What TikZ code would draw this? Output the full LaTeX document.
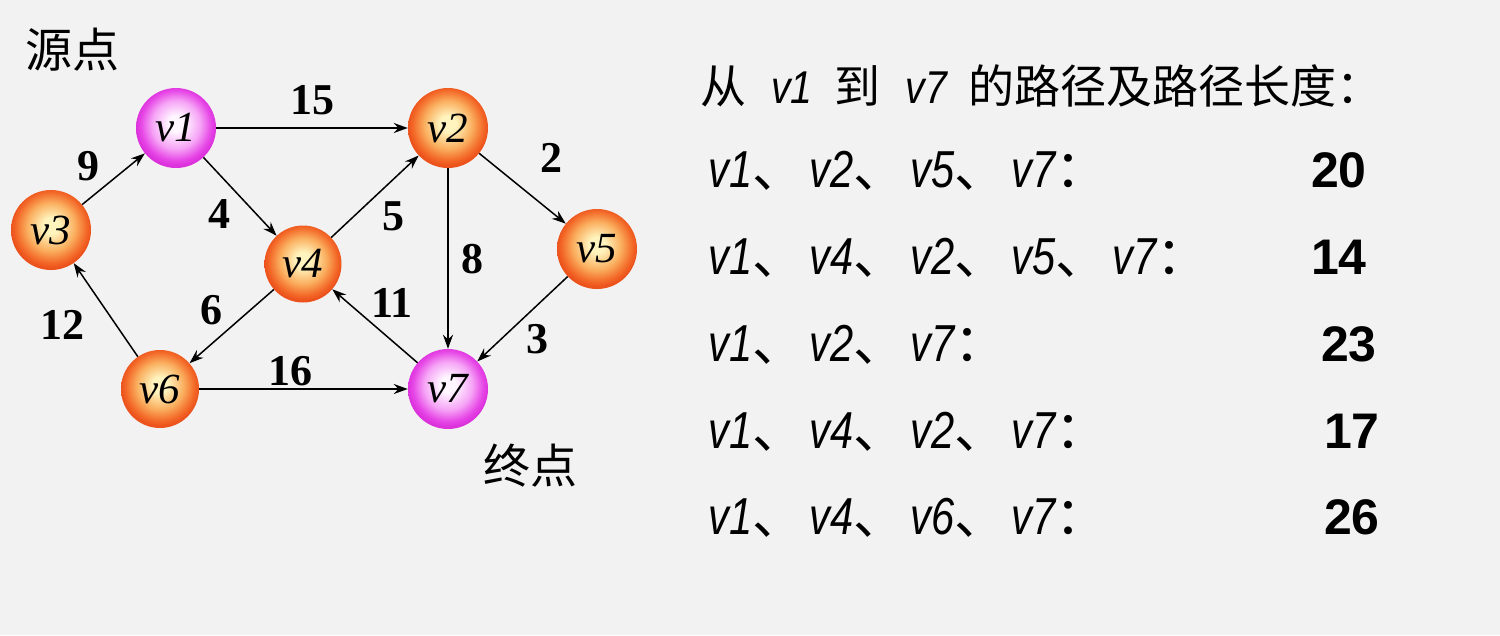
\documentclass[tikz,border=0pt]{standalone}
\usepackage{fontspec}
\setmainfont{Liberation Serif}
\newfontfamily\cjk{Noto Sans CJK SC}
\newfontfamily\arialf{Liberation Sans}
\usetikzlibrary{arrows.meta}
\definecolor{bgc}{RGB}{242,242,242}
\definecolor{oa}{RGB}{255,244,190}
\definecolor{ob}{RGB}{250,175,95}
\definecolor{oc}{RGB}{243,105,40}
\definecolor{od}{RGB}{236,82,28}
\definecolor{ma}{RGB}{255,246,255}
\definecolor{mb}{RGB}{246,165,246}
\definecolor{mc}{RGB}{230,70,230}
\definecolor{md}{RGB}{220,50,220}
\pgfdeclareradialshading{oball}{\pgfpoint{0bp}{3bp}}{color(0bp)=(oa); color(5bp)=(oa); color(15bp)=(ob); color(22bp)=(oc); color(25bp)=(od); color(50bp)=(od)}
\pgfdeclareradialshading{mball}{\pgfpoint{0bp}{3bp}}{color(0bp)=(ma); color(5bp)=(ma); color(15bp)=(mb); color(22bp)=(mc); color(25bp)=(md); color(50bp)=(md)}
\newcommand\vrow[1]{\scalebox{0.8}[1]{\arialf\itshape v#1}}
\newcommand\vitem[1]{\makebox[101pt][l]{\vrow{#1}{\cjk 、}}}
\begin{document}
\begin{tikzpicture}[x=1pt,y=-1pt,
  vert/.style={circle, minimum size=80pt, inner sep=0pt, font=\fontsize{43}{43}\selectfont\itshape},
  vorange/.style={vert, shading=oball},
  vpink/.style={vert, shading=mball},
  arr/.style={line width=1.5pt, -{Stealth[length=14pt,width=10pt]}},
  lbl/.style={inner sep=0pt, font=\fontsize{44}{44}\selectfont\bfseries},
  zh/.style={inner sep=0pt, font=\fontsize{47}{47}\selectfont\cjk},
  rowt/.style={inner sep=0pt, anchor=base west, font=\fontsize{52}{52}\selectfont},
  num/.style={inner sep=0pt, anchor=base east, font=\fontsize{50}{50}\selectfont\arialf\bfseries}]
\fill[bgc] (0,0) rectangle (1500,635);
\useasboundingbox (0,0) rectangle (1500,635);
% nodes
\node[vpink]   (v1) at (176,128) {v1};
\node[vorange] (v2) at (448,128) {v2};
\node[vorange] (v3) at (51,230)  {v3};
\node[vorange, minimum size=77pt] (v4) at (303,264) {v4};
\node[vorange] (v5) at (597,249) {v5};
\node[vorange, minimum size=78pt] (v6) at (160,389) {v6};
\node[vpink]   (v7) at (448,389) {v7};
% edges
\draw[arr] (v1) -- (v2);
\draw[arr] (v3) -- (v1);
\draw[arr] (v1) -- (v4);
\draw[arr] (v4) -- (v2);
\draw[arr] (v2) -- (v5);
\draw[arr] (v2) -- (v7);
\draw[arr] (v5) -- (v7);
\draw[arr] (v7) -- (v4);
\draw[arr] (v4) -- (v6);
\draw[arr] (v6) -- (v3);
\draw[arr] (v6) -- (v7);
% edge labels
\node[lbl] (l15) at (312,100) {15};
\node[lbl] (l9)  at (88,166)  {9};
\node[lbl] (l4)  at (219,214) {4};
\node[lbl] (l5)  at (393,216) {5};
\node[lbl] (l2)  at (551,158) {2};
\node[lbl] (l8)  at (472,259) {8};
\node[lbl] (l3)  at (537,339) {3};
\node[lbl] (l11) at (392,303) {11};
\node[lbl] (l6)  at (211,310) {6};
\node[lbl] (l12) at (62,325)  {12};
\node[lbl] (l16) at (290,371) {16};
% chinese labels
\node[zh] (src) at (72,50) {源点};
\node[zh] (dst) at (530,466) {终点};
% title
\node[inner sep=0pt, anchor=base west, font=\fontsize{46}{46}\selectfont] (title) at (700,103)
  {{\cjk 从}\hspace{25pt}\scalebox{0.85}[1]{\arialf\itshape v1}\hspace{22pt}{\cjk 到}\hspace{25pt}\scalebox{0.85}[1]{\arialf\itshape v7}\hspace{22pt}{\cjk 的路径及路径长度：}};
% rows
\node[rowt] (r1) at (708,187) {\vitem{1}\vitem{2}\vitem{5}\vrow{7}{\cjk ：}};
\node[rowt] (r2) at (708,274) {\vitem{1}\vitem{4}\vitem{2}\vitem{5}\vrow{7}{\cjk ：}};
\node[rowt] (r3) at (708,361) {\vitem{1}\vitem{2}\vrow{7}{\cjk ：}};
\node[rowt] (r4) at (708,448) {\vitem{1}\vitem{4}\vitem{2}\vrow{7}{\cjk ：}};
\node[rowt] (r5) at (708,534) {\vitem{1}\vitem{4}\vitem{6}\vrow{7}{\cjk ：}};
% numbers
\node[num] (n1) at (1367,187) {20};
\node[num] (n2) at (1367,274) {14};
\node[num] (n3) at (1377,361) {23};
\node[num] (n4) at (1380,448) {17};
\node[num] (n5) at (1380,534) {26};
\end{tikzpicture}
\end{document}
